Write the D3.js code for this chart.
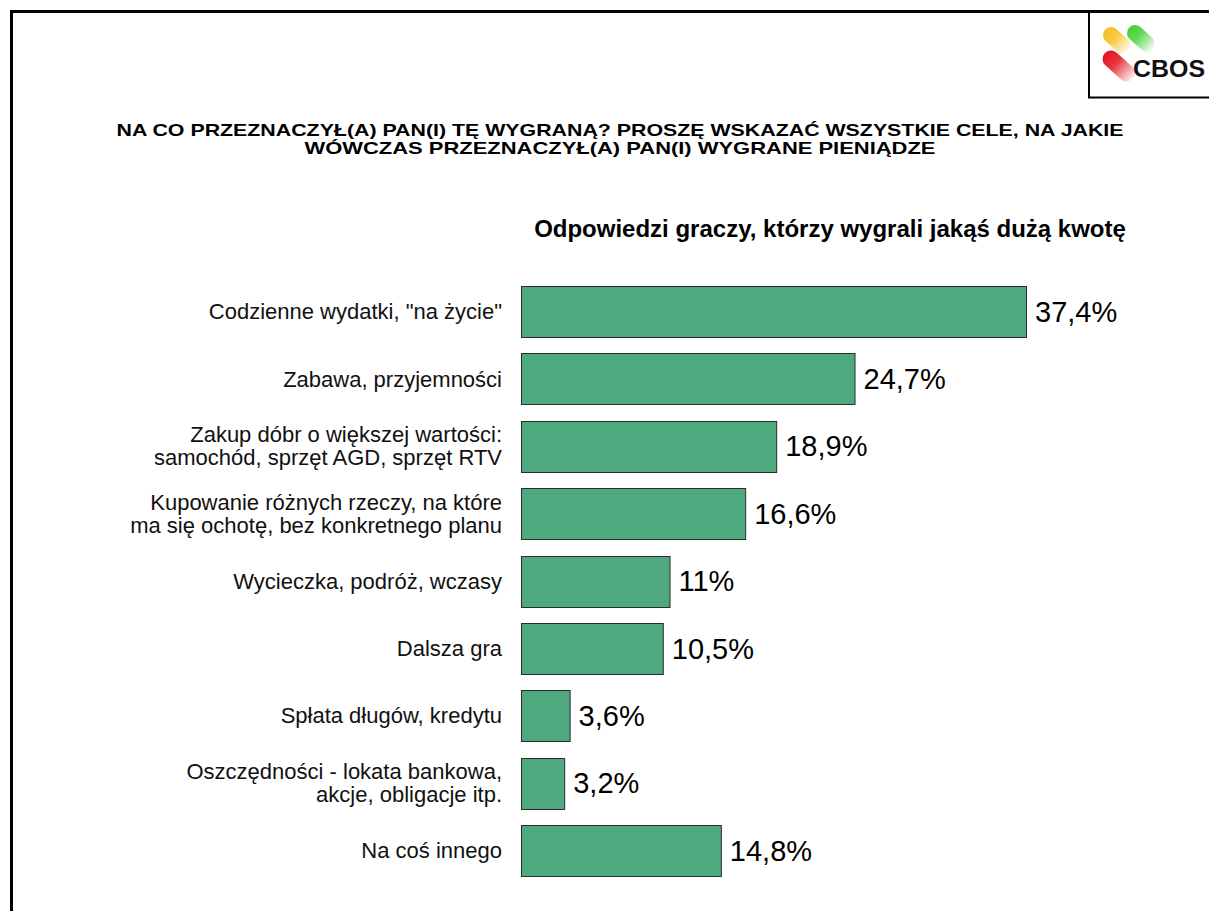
<!DOCTYPE html>
<html>
<head>
<meta charset="utf-8">
<script src="https://cdn.jsdelivr.net/npm/d3@7"></script>
<style>
  body { margin: 0; background: #fff; }
  text { font-family: "Liberation Sans", Arial, sans-serif; }
</style>
</head>
<body>
<svg id="chart"></svg>
<script>
// data
var categories = [
    ['Codzienne wydatki, "na życie"'],
    ['Zabawa, przyjemności'],
    ['Zakup dóbr o większej wartości:', 'samochód, sprzęt AGD, sprzęt RTV'],
    ['Kupowanie różnych rzeczy, na które', 'ma się ochotę, bez konkretnego planu'],
    ['Wycieczka, podróż, wczasy'],
    ['Dalsza gra'],
    ['Spłata długów, kredytu'],
    ['Oszczędności - lokata bankowa,', 'akcje, obligacje itp.'],
    ['Na coś innego']
];
var values = [37.4, 24.7, 18.9, 16.6, 11, 10.5, 3.6, 3.2, 14.8];
var valueLabels = ["37,4%", "24,7%", "18,9%", "16,6%", "11%", "10,5%", "3,6%", "3,2%", "14,8%"];
var titleLines = [
    "NA CO PRZEZNACZYŁ(A) PAN(I) TĘ WYGRANĄ? PROSZĘ WSKAZAĆ WSZYSTKIE CELE, NA JAKIE",
    "WÓWCZAS PRZEZNACZYŁ(A) PAN(I) WYGRANE PIENIĄDZE"
];
var subtitle = "Odpowiedzi graczy, którzy wygrali jakąś dużą kwotę";

var width = 1209, height = 911;
var svg = d3.select("#chart").attr("width", width).attr("height", height);

// frame
svg.append("path")
    .attr("d", "M11.5," + height + " V11.5 H" + width)
    .attr("fill", "none").attr("stroke", "#000").attr("stroke-width", 3);

// logo box
svg.append("path")
    .attr("d", "M1089," + 11 + " V97.5 H" + width)
    .attr("fill", "none").attr("stroke", "#000").attr("stroke-width", 2);

var defs = svg.append("defs");
function blobGrad(id, c) {
    var g = defs.append("linearGradient").attr("id", id)
        .attr("x1", "0").attr("y1", "0").attr("x2", "1").attr("y2", "0");
    g.append("stop").attr("offset", "0").attr("stop-color", c).attr("stop-opacity", 1);
    g.append("stop").attr("offset", "0.4").attr("stop-color", c).attr("stop-opacity", 0.85);
    g.append("stop").attr("offset", "1").attr("stop-color", c).attr("stop-opacity", 0.05);
}
blobGrad("gY", "#f4c020");
blobGrad("gG", "#44d236");
blobGrad("gR", "#e2131c");

var logo = svg.append("g");
// rounded diagonal strokes, fading to the lower right
function blob(x, y, len, w, grad) {
    logo.append("rect")
        .attr("x", -w / 2).attr("y", -w / 2).attr("width", len).attr("height", w).attr("rx", w / 2)
        .attr("transform", "translate(" + x + "," + y + ") rotate(42)")
        .attr("fill", "url(#" + grad + ")");
}
blob(1111, 35, 32, 16, "gY");
blob(1135, 33, 32, 16, "gG");
blob(1111, 59, 38, 17, "gR");
logo.append("text")
    .attr("x", 1133).attr("y", 77)
    .attr("font-size", 23).attr("font-weight", "bold").attr("fill", "#111")
    .attr("textLength", 72).attr("lengthAdjust", "spacingAndGlyphs")
    .text("CBOS");

// title
var titleWidths = [1007, 631];
svg.append("g").selectAll("text")
    .data(titleLines).enter().append("text")
    .attr("x", 620)
    .attr("y", function (d, i) { return 136 + i * 18; })
    .attr("text-anchor", "middle")
    .attr("font-size", 17).attr("font-weight", "bold")
    .attr("fill", "#000")
    .attr("textLength", function (d, i) { return titleWidths[i]; })
    .attr("lengthAdjust", "spacingAndGlyphs")
    .text(function (d) { return d; });

svg.append("text")
    .attr("x", 830).attr("y", 237)
    .attr("text-anchor", "middle")
    .attr("font-size", 24).attr("font-weight", "bold")
    .attr("fill", "#000")
    .text(subtitle);

// scales
var x0 = 521;
var xScale = d3.scaleLinear().domain([0, 37.4]).range([x0, 1026]);
var yScale = d3.scaleBand()
    .domain(d3.range(values.length))
    .range([277.6, 884])
    .paddingInner(0.25).paddingOuter(0.125);

var rows = svg.append("g").selectAll("g")
    .data(values).enter().append("g");

rows.append("rect")
    .attr("x", x0 + 0.5)
    .attr("y", function (d, i) { return Math.round(yScale(i)) + 0.5; })
    .attr("width", function (d) { return xScale(d) - x0; })
    .attr("height", Math.round(yScale.bandwidth()))
    .attr("fill", "#4eaa7e")
    .attr("stroke", "#2b2b2b").attr("stroke-width", 1);

rows.append("text")
    .attr("x", function (d) { return xScale(d) + 9; })
    .attr("y", function (d, i) { return yScale(i) + yScale.bandwidth() / 2; })
    .attr("dy", "0.36em")
    .attr("font-size", 29).attr("fill", "#000")
    .text(function (d, i) { return valueLabels[i]; });

rows.append("text")
    .attr("x", 502)
    .attr("text-anchor", "end")
    .attr("font-size", 22).attr("fill", "#111")
    .each(function (d, i) {
        var lines = categories[i];
        var cy = yScale(i) + yScale.bandwidth() / 2;
        var lh = 23;
        d3.select(this).selectAll("tspan")
            .data(lines).enter().append("tspan")
            .attr("x", 502)
            .attr("y", function (l, j) { return cy + (j - (lines.length - 1) / 2) * lh; })
            .attr("dy", "0.36em")
            .text(function (l) { return l; });
    });
</script>
</body>
</html>
